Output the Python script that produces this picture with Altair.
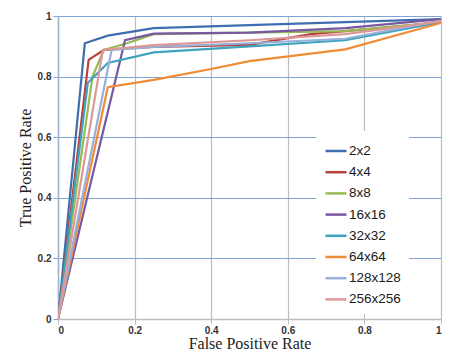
import altair as alt
import pandas as pd

# ROC curves for each block size (false positive rate, true positive rate)
series = ["2x2", "4x4", "8x8", "16x16", "32x32", "64x64", "128x128", "256x256"]
colors = ["#3F6EB0", "#B8403C", "#98B954", "#7659A0", "#3FA3BC", "#F08A35", "#97B0DA", "#DC9896"]

fpr_2 = [0, 0.07, 0.13, 0.25, 0.5, 0.75, 1.0]
tpr_2 = [0, 0.91, 0.935, 0.96, 0.97, 0.98, 0.99]

fpr_4 = [0, 0.08, 0.12, 0.25, 0.5, 0.66, 1.0]
tpr_4 = [0, 0.855, 0.888, 0.898, 0.905, 0.94, 0.978]

fpr_8 = [0, 0.09, 0.12, 0.18, 0.25, 0.5, 0.75, 1.0]
tpr_8 = [0, 0.80, 0.888, 0.91, 0.94, 0.945, 0.95, 0.98]

fpr_16 = [0, 0.175, 0.25, 0.5, 0.75, 1.0]
tpr_16 = [0, 0.92, 0.942, 0.945, 0.96, 0.99]

fpr_32 = [0, 0.078, 0.13, 0.25, 0.5, 0.75, 1.0]
tpr_32 = [0, 0.78, 0.845, 0.88, 0.9, 0.92, 0.98]

fpr_64 = [0, 0.13, 0.25, 0.4, 0.5, 0.75, 1.0]
tpr_64 = [0, 0.765, 0.789, 0.825, 0.851, 0.89, 0.977]

fpr_128 = [0, 0.14, 0.25, 0.5, 0.75, 1.0]
tpr_128 = [0, 0.888, 0.898, 0.91, 0.925, 0.985]

fpr_256 = [0, 0.117, 0.25, 0.5, 0.75, 1.0]
tpr_256 = [0, 0.888, 0.904, 0.92, 0.94, 0.982]

all_fpr = [fpr_2, fpr_4, fpr_8, fpr_16, fpr_32, fpr_64, fpr_128, fpr_256]
all_tpr = [tpr_2, tpr_4, tpr_8, tpr_16, tpr_32, tpr_64, tpr_128, tpr_256]

rows = []
for k, (name, xs, ys) in enumerate(zip(series, all_fpr, all_tpr)):
    for i, (x, y) in enumerate(zip(xs, ys)):
        rows.append({"size": name, "fpr": x, "tpr": y, "k": k, "i": i})
df = pd.DataFrame(rows)

tick_vals = [0, 0.2, 0.4, 0.6, 0.8, 1]

chart = alt.Chart(df).mark_line(strokeWidth=2.2, clip=True).encode(
    x=alt.X(
        "fpr:Q",
        scale=alt.Scale(domain=[0, 1], nice=False),
        axis=alt.Axis(
            title="False Positive Rate",
            values=tick_vals,
            format="~g",
            gridColor="#BDBDBD",
            gridWidth=1.2,
            domainColor="#BDBDBD",
            domainWidth=1.5,
            tickColor="#BDBDBD",
            tickSize=5,
            labelPadding=1,
            titlePadding=0,
        ),
    ),
    y=alt.Y(
        "tpr:Q",
        scale=alt.Scale(domain=[0, 1], nice=False),
        axis=alt.Axis(
            title="True Positive Rate",
            values=tick_vals,
            format="~g",
            gridColor="#7FA3D3",
            gridWidth=1.2,
            domainColor="#9FB3CF",
            domainWidth=1.5,
            tickColor="#7FA3D3",
            tickSize=5,
            labelPadding=2,
            titlePadding=4,
        ),
    ),
    color=alt.Color(
        "size:N",
        scale=alt.Scale(domain=series, range=colors),
        legend=alt.Legend(
            title=None,
            orient="none",
            legendX=258,
            legendY=115,
            fillColor="white",
            padding=8,
            symbolType="stroke",
            symbolSize=441,
            symbolStrokeWidth=2.5,
            labelFontSize=13.5,
            labelFont="Liberation Sans",
            labelColor="#1a1a1a",
            labelOffset=1,
            rowPadding=2.2,
        ),
    ),
    detail="k:O",
    order="i:Q",
).properties(
    width=383,
    height=303,
    autosize=alt.AutoSizeParams(type="none"),
    padding={"left": 58, "top": 16, "right": 24, "bottom": 35},
).configure_view(
    stroke=None
).configure_axis(
    labelFont="Liberation Sans",
    labelFontSize=10,
    labelColor="#333333",
    labelFontWeight="bold",
    titleFont="Liberation Serif",
    titleFontSize=16,
    titleFontWeight="normal",
    titleColor="#222222",
)

chart.save("out.html", embed_options={"renderer": "svg", "actions": False})
